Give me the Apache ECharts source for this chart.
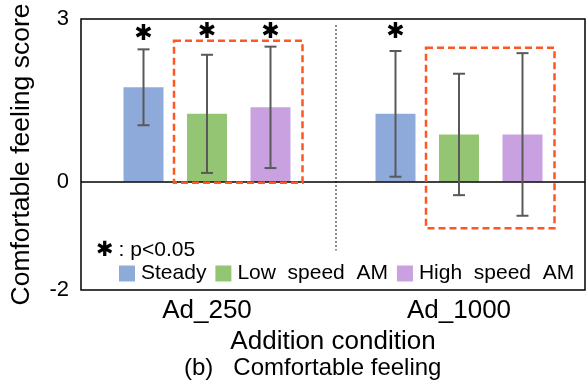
<!DOCTYPE html>
<html>
<head>
<meta charset="utf-8">
<script src="https://cdn.jsdelivr.net/npm/echarts@6.0.0/dist/echarts.min.js"></script>
<style>
  html, body { margin: 0; padding: 0; background: #fff; }
  #chart { width: 586px; height: 380px; }
</style>
</head>
<body>
<div id="chart"></div>
<script>
// data
var categories = ['Ad_250', 'Ad_1000']
var seriesNames = ['Steady', 'Low  speed  AM', 'High  speed  AM']
var steadyMean = [1.74, 1.25]
var steadySd = [0.70, 1.16]
var lowMean = [1.25, 0.87]
var lowSd = [1.09, 1.12]
var highMean = [1.37, 0.87]
var highSd = [1.12, 1.50]
// asterisk (p<0.05) heights, null = no mark
var steadySig = [2.71, 2.76]
var lowSig = [2.76, null]
var highSig = [2.76, null]
// dashed highlight boxes per category [top, bottom]
var boxTop = [2.6, 2.47]
var boxBottom = [-0.02, -0.86]
// dotted separator between the two conditions
var sepRange = [2.89, -1.27]
var yTicks = [-2, 0, 3]

var colors = ['#8eaadb', '#93c573', '#c9a1e1']
var barWidth = 40
var barStep = 63.5 // centre distance of neighbouring bars

var means = [steadyMean, lowMean, highMean]
var sds = [steadySd, lowSd, highSd]
var sigs = [steadySig, lowSig, highSig]

var errData = []
var sigData = []
for (var s = 0; s < 3; s++) {
  for (var c = 0; c < categories.length; c++) {
    errData.push([c, s, means[s][c], sds[s][c]])
    if (sigs[s][c] != null) sigData.push([c, s, sigs[s][c]])
  }
}
var boxData = categories.map(function (n, i) { return [i, boxTop[i], boxBottom[i]] })

var chart = echarts.init(document.getElementById('chart'))
var font = 'Liberation Sans, Arial, sans-serif'

var barSeries = seriesNames.map(function (name, s) {
  var ser = {
    name: name,
    type: 'bar',
    data: means[s],
    barWidth: barWidth,
    barGap: ((barStep - barWidth) / barWidth * 100) + '%',
    itemStyle: { color: colors[s] },
    silent: true
  }
  if (s === 0) {
    ser.markLine = {
      silent: true,
      symbol: 'none',
      label: { show: false },
      lineStyle: { color: '#000', type: 'solid', width: 1.5 },
      data: [{ yAxis: 0 }]
    }
  }
  return ser
})

chart.setOption({
  animation: false,
  textStyle: { fontFamily: font },
  title: [{
    text: '(b)   Comfortable feeling',
    left: 179,
    top: 351,
    textStyle: { fontSize: 24, fontWeight: 'normal', color: '#000', fontFamily: font }
  }, {
    text: '{a|✱} {b|: p<0.05}',
    left: 91,
    top: 235,
    textStyle: {
      fontWeight: 'normal',
      rich: {
        a: { fontSize: 21, color: '#000', fontFamily: 'DejaVu Sans', fontWeight: 'normal' },
        b: { fontSize: 21, color: '#000', fontFamily: font, fontWeight: 'normal' }
      }
    }
  }],
  legend: {
    data: seriesNames,
    left: 119,
    top: 263,
    width: 470,
    padding: 0,
    itemWidth: 16,
    itemHeight: 16,
    itemGap: 9,
    icon: 'rect',
    textStyle: { fontSize: 21, color: '#000', fontFamily: font, padding: [0, 0, 0, 1] }
  },
  grid: {
    left: 79, right: 1, top: 19, bottom: 90,
    show: true,
    borderColor: '#000',
    borderWidth: 1.5
  },
  xAxis: {
    type: 'category',
    data: categories,
    axisLine: { show: false },
    axisTick: { show: false },
    axisLabel: { fontSize: 26, color: '#000', margin: 8, fontFamily: font },
    name: 'Addition condition',
    nameLocation: 'middle',
    nameGap: 36,
    nameTextStyle: { fontSize: 26, color: '#000', fontFamily: font }
  },
  yAxis: {
    type: 'value',
    min: -2,
    max: 3,
    interval: 1,
    axisLine: { show: false },
    axisTick: { show: false },
    splitLine: { show: false },
    axisLabel: {
      fontSize: 22, color: '#000', margin: 12, fontFamily: font,
      formatter: function (v) { return yTicks.indexOf(v) >= 0 ? String(v) : '' }
    },
    name: 'Comfortable feeling score',
    nameLocation: 'middle',
    nameGap: 46,
    nameTextStyle: { fontSize: 26.5, color: '#000', fontFamily: font }
  },
  series: barSeries.concat([{
    type: 'custom',
    name: 'err',
    silent: true,
    z: 5,
    data: errData,
    renderItem: function (params, api) {
      var c = api.value(0), s = api.value(1), m = api.value(2), sd = api.value(3)
      var off = (s - 1) * barStep
      var top = api.coord([c, m + sd])
      var bot = api.coord([c, m - sd])
      var x = top[0] + off
      var cap = 6
      var st = { stroke: '#595959', lineWidth: 2 }
      return {
        type: 'group',
        children: [
          { type: 'line', shape: { x1: x, y1: top[1], x2: x, y2: bot[1] }, style: st },
          { type: 'line', shape: { x1: x - cap, y1: top[1], x2: x + cap, y2: top[1] }, style: st },
          { type: 'line', shape: { x1: x - cap, y1: bot[1], x2: x + cap, y2: bot[1] }, style: st }
        ]
      }
    }
  }, {
    type: 'custom',
    name: 'sig',
    silent: true,
    z: 6,
    data: sigData,
    renderItem: function (params, api) {
      var c = api.value(0), s = api.value(1)
      var p = api.coord([c, api.value(2)])
      return {
        type: 'text',
        style: {
          x: p[0] + (s - 1) * barStep,
          y: p[1],
          text: '✱',
          fill: '#000',
          font: '22px DejaVu Sans',
          align: 'center',
          verticalAlign: 'middle'
        }
      }
    }
  }, {
    type: 'custom',
    name: 'box',
    silent: true,
    z: 7,
    data: boxData,
    renderItem: function (params, api) {
      var c = api.value(0)
      var t = api.coord([c, api.value(1)])
      var b = api.coord([c, api.value(2)])
      var x1 = t[0] - barWidth / 2 - 13
      var x2 = t[0] + barStep + barWidth / 2 + 12
      return {
        type: 'rect',
        shape: { x: x1, y: t[1], width: x2 - x1, height: b[1] - t[1] },
        style: { fill: 'none', stroke: '#ff5722', lineWidth: 2.5, lineDash: [7, 4] }
      }
    }
  }, {
    type: 'custom',
    name: 'sep',
    silent: true,
    z: 4,
    data: [[0, sepRange[0], sepRange[1]]],
    renderItem: function (params, api) {
      var a = api.coord([0, api.value(1)])
      var b = api.coord([1, api.value(2)])
      var x = (a[0] + b[0]) / 2 + 3
      return {
        type: 'line',
        shape: { x1: x, y1: a[1], x2: x, y2: b[1] },
        style: { stroke: '#8c8c8c', lineWidth: 2, lineDash: [2, 2] }
      }
    }
  }])
})
</script>
</body>
</html>
